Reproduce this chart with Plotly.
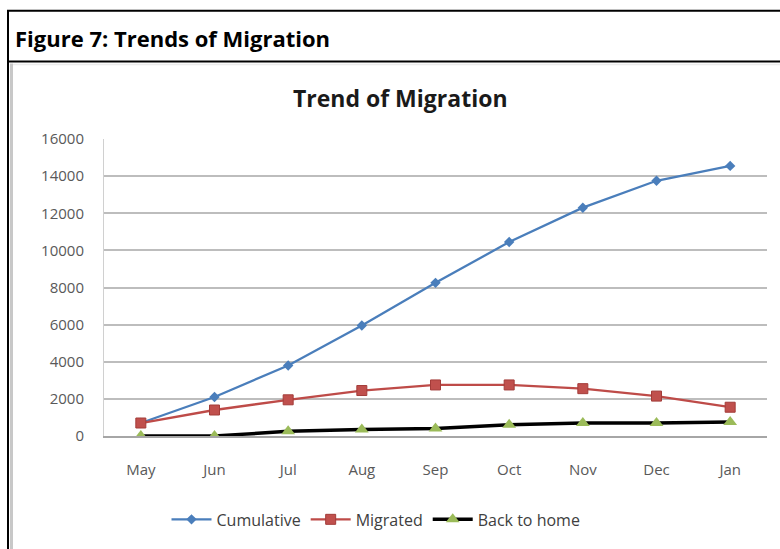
import plotly.graph_objects as go

months = ["May", "Jun", "Jul", "Aug", "Sep", "Oct", "Nov", "Dec", "Jan"]
cumulative = [700, 2100, 3800, 5950, 8250, 10450, 12300, 13750, 14550]
migrated = [700, 1400, 1950, 2450, 2750, 2750, 2550, 2150, 1550]
back_home = [0, 0, 250, 350, 400, 600, 700, 700, 750]
y_ticks = [0, 2000, 4000, 6000, 8000, 10000, 12000, 14000, 16000]
y_tick_labels = [str(v) for v in y_ticks]

W, H = 780, 549
L, R, T, B = 104, 767, 139, 438  # plot area in pixels


def px(x):
    return (x - L) / (R - L)


def py(y):
    return (B - y) / (B - T)


FONT = "Open Sans"

fig = go.Figure()
fig.add_trace(go.Scatter(
    x=months, y=cumulative, name="Cumulative", mode="lines+markers",
    line=dict(color="#4a7ebb", width=2.3),
    marker=dict(symbol="diamond", size=8, color="#4a7ebb"),
))
fig.add_trace(go.Scatter(
    x=months, y=migrated, name="Migrated", mode="lines+markers",
    line=dict(color="#be4b48", width=2.3),
    marker=dict(symbol="square", size=10, color="#c0504d",
                line=dict(color="#a33c39", width=1)),
))
fig.add_trace(go.Scatter(
    x=months, y=back_home, name="Back to home", mode="lines+markers",
    line=dict(color="#000000", width=3.5),
    marker=dict(symbol="triangle-up", size=12, color="#9bbb59"),
))

shapes = [
    # header box
    dict(type="rect", xref="paper", yref="paper",
         x0=px(8), x1=px(790), y0=py(61), y1=py(10),
         line=dict(color="#000000", width=2), fillcolor="rgba(0,0,0,0)", layer="above"),
    # chart box left border
    dict(type="line", xref="paper", yref="paper",
         x0=px(8), x1=px(8), y0=py(61), y1=py(560),
         line=dict(color="#000000", width=2)),
    dict(type="line", xref="paper", yref="paper",
         x0=px(11.5), x1=px(11.5), y0=py(63), y1=py(560),
         line=dict(color="#c8c8c8", width=3)),
    dict(type="line", xref="paper", yref="paper",
         x0=px(13), x1=px(790), y0=py(64), y1=py(64),
         line=dict(color="#ececec", width=1.5)),
]

annotations = [
    dict(text="<b>Figure 7: Trends of Migration</b>", xref="paper", yref="paper",
         x=px(13), y=py(37), xanchor="left", yanchor="middle", showarrow=False,
         font=dict(family=FONT, size=22, color="#000000")),
    dict(text="<b>Trend of Migration</b>", xref="paper", yref="paper",
         x=px(400), y=py(98), xanchor="center", yanchor="middle", showarrow=False,
         font=dict(family=FONT, size=23, color="#1a1a1a")),
]

fig.update_layout(
    width=W, height=H,
    margin=dict(l=L, r=W - R, t=T, b=H - B),
    paper_bgcolor="white", plot_bgcolor="white",
    font=dict(family=FONT, size=15, color="#595959"),
    showlegend=True,
    legend=dict(orientation="h", x=px(376), xanchor="center", y=py(522), yanchor="middle",
                font=dict(family=FONT, size=16, color="#404040"), itemwidth=40,
                bgcolor="rgba(0,0,0,0)"),
    shapes=shapes, annotations=annotations,
    xaxis=dict(type="category", categoryorder="array", categoryarray=months,
               range=[-0.5, len(months) - 0.5], showgrid=False, zeroline=False,
               showline=True, linecolor="#a6a6a6", linewidth=1.5, ticks="",
               ticklabelstandoff=19, tickfont=dict(family=FONT, size=15, color="#595959")),
    yaxis=dict(range=[0, 16000], tickvals=y_ticks, ticktext=y_tick_labels,
               showgrid=True, gridcolor="#bdbdbd",
               gridwidth=1.5, zeroline=False, showline=True, linecolor="#d0d0d0",
               linewidth=1, ticks="", ticklabelstandoff=16,
               tickfont=dict(family=FONT, size=15, color="#595959")),
)

fig.write_html("out.html")
